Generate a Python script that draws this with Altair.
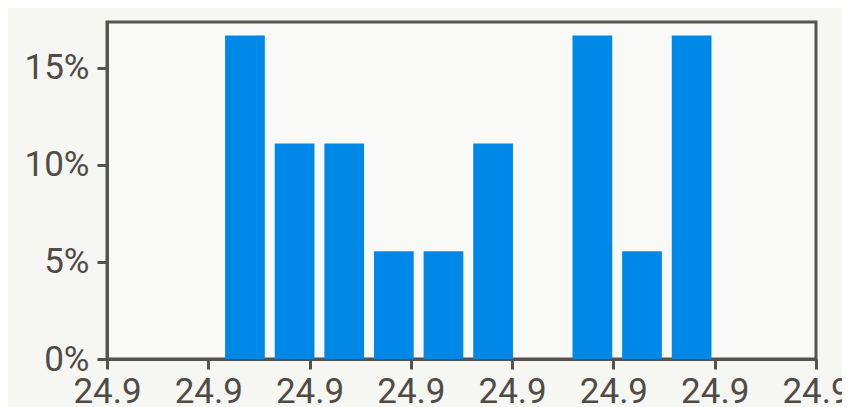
import altair as alt
import pandas as pd

# Histogram bins (x in tick-step units) and their share of samples (%)
bin_starts = [1.117, 1.607, 2.097, 2.587, 3.077, 3.567, 4.057, 4.547, 5.037, 5.527]
bin_ends = [1.607, 2.097, 2.587, 3.077, 3.567, 4.057, 4.547, 5.037, 5.527, 6.017]
percents = [16.67, 11.11, 11.11, 5.56, 5.56, 11.11, 0.0, 16.67, 5.56, 16.67]
x_ticks = [0, 1, 2, 3, 4, 5, 6, 7]
x_tick_label = "24.9"
y_ticks = [0, 5, 10, 15]

pad_frac = 0.1
rows = []
for s, e, p in zip(bin_starts, bin_ends, percents):
    w = e - s
    rows.append({"x0": s + w * pad_frac, "x1": e - w * pad_frac, "pct": p})
df = pd.DataFrame(rows)

axis_color = "#56524d"
text_color = "#4f4b46"

chart = (
    alt.Chart(df)
    .mark_bar(color="#0088e8")
    .encode(
        x=alt.X(
            "x0:Q",
            scale=alt.Scale(domain=[0, 7], nice=False, zero=False),
            axis=alt.Axis(
                values=x_ticks,
                labelExpr=f"'{x_tick_label}'",
                title=None,
                grid=False,
                domainColor=axis_color,
                domainWidth=3,
                tickColor=axis_color,
                tickWidth=3,
                tickSize=10,
                labelColor=text_color,
                labelFont="Roboto",
                labelFontSize=35,
                labelPadding=5,
                labelOverlap=False,
                labelFlush=False,
            ),
        ),
        x2="x1:Q",
        y=alt.Y(
            "pct:Q",
            scale=alt.Scale(domain=[0, 17.37], nice=False),
            axis=alt.Axis(
                values=y_ticks,
                labelExpr="datum.value + '%'",
                title=None,
                grid=False,
                domainColor=axis_color,
                domainWidth=3,
                tickColor=axis_color,
                tickWidth=3,
                tickSize=10,
                labelColor=text_color,
                labelFont="Roboto",
                labelFontSize=35,
                labelPadding=8,
                labelOverlap=False,
            ),
        ),
        y2=alt.datum(0),
    )
    .properties(
        width=709,
        height=337,
        autosize=alt.AutoSizeParams(type="none"),
        padding={"left": 99, "top": 14, "right": 26, "bottom": 48},
        background="#f6f6f3",
    )
    .configure_view(fill="#f9f9f7", stroke=axis_color, strokeWidth=3)
)

chart.save("out.html", embed_options={"renderer": "svg", "actions": False})
